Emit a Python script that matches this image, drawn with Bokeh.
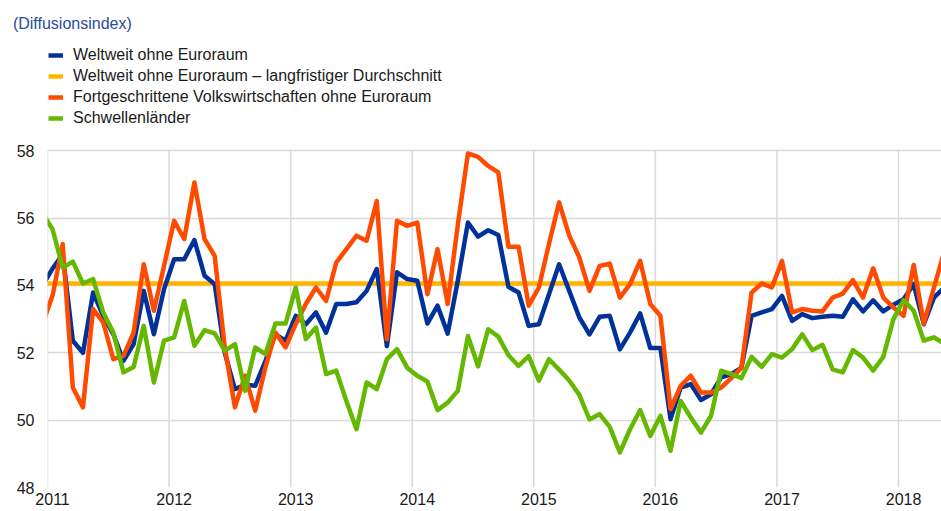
from bokeh.plotting import figure
from bokeh.models import Range1d, FixedTicker, CustomJSTickFormatter, Legend, LegendItem
from bokeh.embed import file_html
from bokeh.resources import INLINE

FONT = "Liberation Sans"

# Monthly observations, December 2010 to May 2018 (plotted at mid-month)
month_index = list(range(-1, 89))
years = [2011, 2012, 2013, 2014, 2015, 2016, 2017, 2018]
y_ticks = [48, 50, 52, 54, 56, 58]

world_ex_ea = [
    54.0, 54.5, 54.93, 52.36, 52.0, 53.79, 53.1, 52.55, 51.76, 52.26, 53.84, 52.55, 53.89,
    54.78, 54.78, 55.35, 54.29, 54.04, 52.0, 50.92, 51.05, 51.02, 51.75, 52.55, 52.36,
    53.1, 52.85, 53.2, 52.6, 53.45, 53.45, 53.5, 53.84, 54.49, 52.2, 54.39, 54.19,
    54.14, 52.87, 53.4, 52.57, 54.14, 55.87, 55.45, 55.64, 55.5, 53.96, 53.79, 52.8,
    52.85, 53.74, 54.63, 53.84, 53.05, 52.55, 53.07, 53.1, 52.1, 52.6, 53.17, 52.14,
    52.14, 50.03, 50.97, 51.07, 50.6, 50.77, 51.27, 51.37, 51.56, 53.1, 53.2, 53.3,
    53.69, 52.95, 53.15, 53.03, 53.07, 53.1, 53.07, 53.59, 53.23, 53.56, 53.23, 53.43,
    53.59, 54.04, 52.85, 53.64, 53.94,
]
long_term_avg = 54.06
advanced_ex_ea = [
    52.85, 53.7, 55.23, 50.97, 50.38, 53.3, 52.9, 51.81, 51.91, 52.6, 54.63, 53.25, 54.58,
    55.92, 55.38, 57.06, 55.38, 54.88, 52.16, 50.38, 51.32, 50.28, 51.56, 52.6, 52.16,
    52.85, 53.45, 53.94, 53.54, 54.68, 55.08, 55.48, 55.33, 56.51, 52.4, 55.92, 55.77,
    55.87, 53.74, 55.08, 53.45, 55.8, 57.92, 57.82, 57.55, 57.36, 55.15, 55.15, 53.4,
    53.94, 55.23, 56.47, 55.48, 54.83, 53.84, 54.58, 54.65, 53.64, 54.04, 54.73, 53.45,
    53.1, 50.33, 51.02, 51.32, 50.82, 50.82, 50.97, 51.25, 51.56, 53.79, 54.06, 53.94,
    54.73, 53.2, 53.3, 53.25, 53.23, 53.64, 53.76, 54.16, 53.64, 54.51, 53.64, 53.35,
    53.1, 54.61, 52.87, 53.94, 54.98,
]
emerging = [
    56.15, 55.67, 54.53, 54.71, 54.06, 54.19, 53.2, 52.6, 51.42, 51.58, 52.8, 51.12, 52.36,
    52.46, 53.54, 52.21, 52.67, 52.58, 52.06, 52.26, 50.87, 52.16, 51.96, 52.87, 52.87,
    53.94, 52.41, 52.75, 51.37, 51.47, 50.57, 49.73, 51.12, 50.92, 51.81, 52.11, 51.56,
    51.32, 51.15, 50.3, 50.52, 50.87, 52.5, 51.6, 52.7, 52.48, 51.93, 51.61, 51.9,
    51.17, 51.81, 51.5, 51.18, 50.75, 50.02, 50.18, 49.8, 49.04, 49.73, 50.3, 49.53,
    50.13, 49.09, 50.57, 50.08, 49.63, 50.13, 51.47, 51.37, 51.25, 51.88, 51.58, 51.96,
    51.86, 52.11, 52.55, 52.08, 52.24, 51.51, 51.42, 52.08, 51.86, 51.47, 51.88, 53.0,
    53.56, 53.25, 52.36, 52.46, 52.28,
]

title_text = "(Diffusionsindex)"
labels = [
    "Weltweit ohne Euroraum",
    "Weltweit ohne Euroraum \u2013 langfristiger Durchschnitt",
    "Fortgeschrittene Volkswirtschaften ohne Euroraum",
    "Schwellenl\u00e4nder",
]
colors = ["#003299", "#ffb400", "#ff4b00", "#65b800"]
LW = 4.5

PX_PER_UNIT = 336.7 / 10      # vertical scale of the reference
PX_PER_YEAR = 121.57          # horizontal scale of the reference
FRAME_W, FRAME_H = 894, 444

x = [2011 + (k + 0.5) / 12 for k in month_index]
x_end = 2011 + FRAME_W / PX_PER_YEAR
y_end = 48 + FRAME_H / PX_PER_UNIT   # frame extends above 58 to hold the legend

p = figure(frame_width=FRAME_W, frame_height=FRAME_H, x_range=Range1d(2011, x_end),
           y_range=Range1d(48, y_end), output_backend="svg", toolbar_location=None,
           min_border_left=47, min_border_right=0, min_border_top=43, min_border_bottom=0,
           title=title_text)
p.outline_line_color = None
p.background_fill_color = "white"
p.border_fill_color = "white"
p.title.align = "left"
p.title.offset = -34.6
p.title.standoff = 23
p.title.text_color = "#264c9e"
p.title.text_font = FONT
p.title.text_font_size = "16px"
p.title.text_font_style = "normal"

p.xaxis.ticker = FixedTicker(ticks=[yr + 0.5 / 12 for yr in years])
p.xaxis.formatter = CustomJSTickFormatter(code="return Math.floor(tick).toString();")
p.yaxis.ticker = FixedTicker(ticks=y_ticks)
for ax in (p.xaxis[0], p.yaxis[0]):
    ax.axis_line_color = None
    ax.major_tick_line_color = None
    ax.minor_tick_line_color = None
    ax.major_tick_out = 0
    ax.major_tick_in = 0
    ax.major_label_text_font = FONT
    ax.major_label_text_font_size = "16px"
    ax.major_label_text_color = "#1a1a1a"
p.yaxis.major_label_standoff = 13
p.xaxis.major_label_standoff = 5
p.xgrid.visible = False
p.ygrid.grid_line_color = "#d9d9d9"
p.ygrid.grid_line_width = 1.5

# vertical year grid lines, only across the value range
p.segment(x0=years, y0=[min(y_ticks)] * len(years), x1=years, y1=[max(y_ticks)] * len(years),
          line_color="#d9d9d9", line_width=1.5)

r_avg = p.line(x, [long_term_avg] * len(x), line_color=colors[1], line_width=LW)
r_world = p.line(x, world_ex_ea, line_color=colors[0], line_width=LW, line_join="round")
r_adv = p.line(x, advanced_ex_ea, line_color=colors[2], line_width=LW, line_join="round")
r_em = p.line(x, emerging, line_color=colors[3], line_width=LW, line_join="round")

legend = Legend(items=[
    LegendItem(label=labels[0], renderers=[r_world]),
    LegendItem(label=labels[1], renderers=[r_avg]),
    LegendItem(label=labels[2], renderers=[r_adv]),
    LegendItem(label=labels[3], renderers=[r_em]),
], location=(1, 360), orientation="vertical", glyph_width=15, glyph_height=18,
    label_height=18, spacing=3, label_standoff=10, margin=0, padding=0,
    border_line_alpha=0, background_fill_alpha=0,
    label_text_font=FONT, label_text_font_size="16px", label_text_color="#1a1a1a")
p.add_layout(legend, "center")

open("out.html", "w").write(file_html(p, INLINE))
